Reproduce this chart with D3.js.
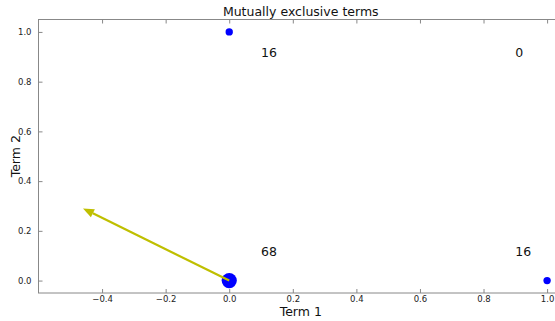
<!DOCTYPE html>
<html>
<head>
<meta charset="utf-8">
<script src="https://cdn.jsdelivr.net/npm/d3@7"></script>
<style>
  body { margin: 0; background: #fff; }
  svg { font-family: "DejaVu Sans", sans-serif; }
</style>
</head>
<body>
<div id="chart"></div>
<script>
// Mutually exclusive terms: co-occurrence counts at the four corners

const cellX = [0, 1, 0, 1];
const cellY = [1, 1, 0, 0];
const cellCounts = [16, 0, 68, 16];
const labelX = [0.1, 0.9, 0.1, 0.9];
const labelY = [0.9, 0.9, 0.1, 0.1];
const arrowVec = [-0.46, 0.29];
const xTicks = [-0.4, -0.2, 0.0, 0.2, 0.4, 0.6, 0.8, 1.0];
const yTicks = [0.0, 0.2, 0.4, 0.6, 0.8, 1.0];

const W = 555, H = 321;
const margin = {top: 19.5, right: -8, bottom: 28, left: 38.5};
const width = W - margin.left - margin.right,
      height = H - margin.top - margin.bottom;

const svg = d3.select("#chart").append("svg")
  .attr("width", W).attr("height", H);

const g = svg.append("g")
  .attr("transform", `translate(${margin.left},${margin.top})`);

const x = d3.scaleLinear().domain([-0.6, 1.05]).range([0, width]);
const y = d3.scaleLinear().domain([-0.05, 1.05]).range([height, 0]);
const r = d3.scaleSqrt().domain([0, 68]).range([0, 7.6]);

const spine = "#888";

// frame
g.append("rect")
  .attr("width", width).attr("height", height)
  .attr("fill", "none").attr("stroke", spine).attr("stroke-width", 1);

// axes with inward ticks
const xAxis = g.append("g").attr("transform", `translate(0,${height})`)
  .call(d3.axisBottom(x).tickValues(xTicks).tickFormat(d3.format(".1f")).tickSizeInner(-4).tickSizeOuter(0).tickPadding(3));
const xTop = g.append("g")
  .call(d3.axisTop(x).tickValues(xTicks).tickFormat("").tickSizeInner(-4).tickSizeOuter(0));
const yAxis = g.append("g")
  .call(d3.axisLeft(y).tickValues(yTicks).tickFormat(d3.format(".1f")).tickSizeInner(-4).tickSizeOuter(0).tickPadding(7));

[xAxis, xTop, yAxis].forEach(a => {
  a.select(".domain").remove();
  a.selectAll("line").attr("stroke", spine);
  a.selectAll("text").attr("fill", "#222").attr("font-size", 8.5)
    .attr("font-family", "DejaVu Sans, sans-serif");
});

// points sized by count
const cells = cellCounts.map((c, i) => ({x: cellX[i], y: cellY[i], count: c, lx: labelX[i], ly: labelY[i]}));

g.selectAll(".pt")
  .data(cells.filter(d => d.count > 0))
  .enter().append("circle")
  .attr("class", "pt")
  .attr("cx", d => x(d.x))
  .attr("cy", d => y(d.y))
  .attr("r", d => r(d.count))
  .attr("fill", "#0000ff");

// count labels
g.selectAll(".lbl")
  .data(cells)
  .enter().append("text")
  .attr("x", d => x(d.lx))
  .attr("y", d => y(d.ly))
  .attr("font-size", 12.5)
  .attr("fill", "#111")
  .text(d => d.count);

// arrow
const ax0 = x(0), ay0 = y(0), ax1 = x(arrowVec[0]), ay1 = y(arrowVec[1]);
const ang = Math.atan2(ay1 - ay0, ax1 - ax0);
const headLen = 11, headW = 4.5;
const bx = ax1 - headLen * Math.cos(ang), by = ay1 - headLen * Math.sin(ang);
g.append("line")
  .attr("x1", ax0).attr("y1", ay0).attr("x2", bx).attr("y2", by)
  .attr("stroke", "#bfbf00").attr("stroke-width", 2.2);
g.append("path")
  .attr("d", `M${ax1},${ay1}` +
    `L${bx - headW * Math.sin(ang)},${by + headW * Math.cos(ang)}` +
    `L${bx + headW * Math.sin(ang)},${by - headW * Math.cos(ang)}Z`)
  .attr("fill", "#bfbf00");

// title and axis labels
svg.append("text")
  .attr("x", margin.left + width / 2).attr("y", 16)
  .attr("text-anchor", "middle").attr("font-size", 12.5).attr("fill", "#111")
  .text("Mutually exclusive terms");

svg.append("text")
  .attr("x", margin.left + width / 2).attr("y", 316)
  .attr("text-anchor", "middle").attr("font-size", 12.5).attr("fill", "#111")
  .text("Term 1");

svg.append("text")
  .attr("transform", `translate(20,${margin.top + height / 2}) rotate(-90)`)
  .attr("text-anchor", "middle").attr("font-size", 12.5).attr("fill", "#111")
  .text("Term 2");
</script>
</body>
</html>
